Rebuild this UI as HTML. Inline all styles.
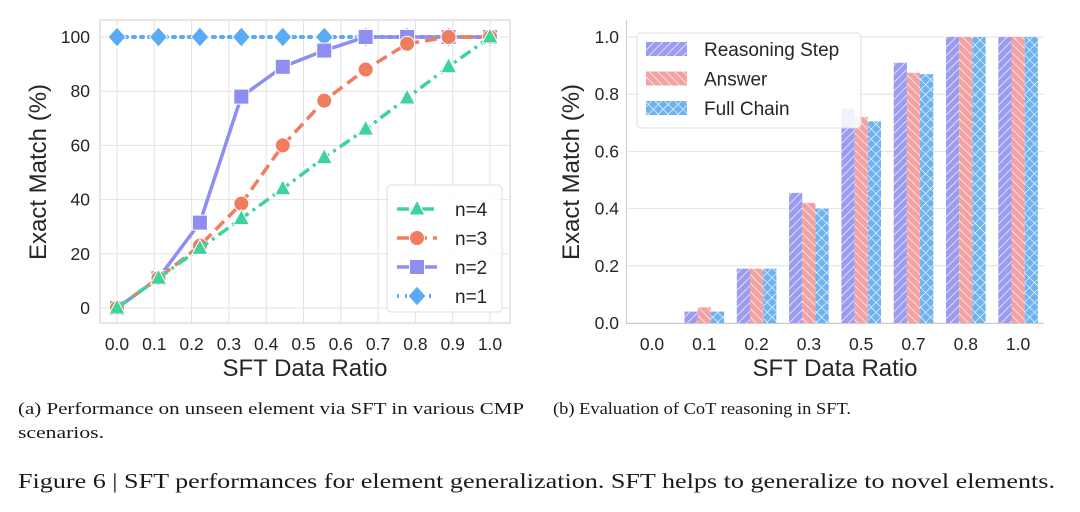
<!DOCTYPE html>
<html><head><meta charset="utf-8"><style>
body{margin:0;background:#fff;width:1080px;height:512px;overflow:hidden}
svg{display:block}
.t{font-family:"Liberation Sans",sans-serif;fill:#262626}
.s{font-family:"Liberation Serif",serif;fill:#1a1a1a}
</style></head><body>
<svg id="fig" width="1080" height="512">
<defs>
<pattern id="h1" width="6" height="6" patternUnits="userSpaceOnUse" patternTransform="rotate(45)"><rect width="6" height="6" fill="#9b9bef"/><line x1="0" y1="0" x2="0" y2="6" stroke="#fff" stroke-width="1.3"/></pattern>
<pattern id="h2" width="6" height="6" patternUnits="userSpaceOnUse" patternTransform="rotate(-45)"><rect width="6" height="6" fill="#f2a2a2"/><line x1="0" y1="0" x2="0" y2="6" stroke="#fff" stroke-width="1.3"/></pattern>
<pattern id="h3" width="7" height="7" patternUnits="userSpaceOnUse" patternTransform="rotate(45)"><rect width="7" height="7" fill="#6eb2f0"/><line x1="0" y1="0" x2="0" y2="7" stroke="#fff" stroke-width="1.2"/><line x1="0" y1="0" x2="7" y2="0" stroke="#fff" stroke-width="1.2"/></pattern>
</defs>
<g id="left"></g>
<g id="right"></g>
<text class="s" x="18" y="414" font-size="16.5" textLength="506" lengthAdjust="spacingAndGlyphs">(a) Performance on unseen element via SFT in various CMP</text>
<text class="s" x="18" y="438" font-size="16.5" textLength="86" lengthAdjust="spacingAndGlyphs">scenarios.</text>
<text class="s" x="553" y="414" font-size="16.5" textLength="298" lengthAdjust="spacingAndGlyphs">(b) Evaluation of CoT reasoning in SFT.</text>
<text class="s" x="18" y="488" font-size="21" textLength="1037" lengthAdjust="spacingAndGlyphs">Figure 6 | SFT performances for element generalization. SFT helps to generalize to novel elements.</text>
</svg>
<script>
// ---- left chart data ----
const lineX = [0, 1/9, 2/9, 3/9, 4/9, 5/9, 6/9, 7/9, 8/9, 1];
const n4 = [0, 11, 22, 33, 44, 55.5, 66, 77.5, 89, 100];
const n3 = [0, 11, 23, 38.5, 60, 76.5, 88, 97.5, 100, 100];
const n2 = [0, 11, 31.5, 78, 89, 95, 100, 100, 100, 100];
const n1 = [100, 100, 100, 100, 100, 100, 100, 100, 100, 100];
const leftXTicks = [0, 0.1, 0.2, 0.3, 0.4, 0.5, 0.6, 0.7, 0.8, 0.9, 1.0];
const leftYTicks = [0, 20, 40, 60, 80, 100];
// ---- right chart data ----
const barCats = ["0.0", "0.1", "0.2", "0.3", "0.5", "0.7", "0.8", "1.0"];
const reasoning = [0, 0.04, 0.19, 0.455, 0.75, 0.91, 1, 1];
const answer = [0, 0.055, 0.19, 0.42, 0.72, 0.875, 1, 1];
const fullChain = [0, 0.04, 0.19, 0.40, 0.705, 0.87, 1, 1];
const rightYTicks = [0, 0.2, 0.4, 0.6, 0.8, 1.0];

const NS = "http://www.w3.org/2000/svg";
function mk(parent, tag, attrs, text) {
  const e = document.createElementNS(NS, tag);
  for (const k in attrs) e.setAttribute(k, attrs[k]);
  if (text !== undefined) e.textContent = text;
  parent.appendChild(e);
  return e;
}
// LEFT
const L = document.getElementById('left');
const lx = v => 117 + v * 373;
const ly = v => 308 - v * 2.71;
mk(L, 'rect', {x: 100, y: 20, width: 410, height: 303, fill: '#fff', stroke: '#ccc'});
leftXTicks.forEach(t => {
  const g = mk(L, 'line', {x1: lx(t), x2: lx(t), y1: 20, y2: 323, stroke: '#e2e2e2'});
  
  
  const tx = mk(L, 'text', {x: lx(t), y: 350, 'text-anchor': 'middle', 'font-size': 17.5, class: 't'}, t.toFixed(1));
  
  
});
leftYTicks.forEach(t => {
  const g = mk(L, 'line', {x1: 100, x2: 510, y1: ly(t), y2: ly(t), stroke: '#e2e2e2'});
  
  
  const tx = mk(L, 'text', {x: 90, y: ly(t) + 6, 'text-anchor': 'end', 'font-size': 17.5, class: 't'}, String(t));
  
  
});
const xl = mk(L, 'text', {x: 305, y: 376, 'text-anchor': 'middle', 'font-size': 24, class: 't'}, 'SFT Data Ratio');


const yl = mk(L, 'text', {x: 0, y: 0, transform: 'translate(46,172) rotate(-90)', 'text-anchor': 'middle', 'font-size': 24, class: 't'}, 'Exact Match (%)');



function marker(g, type, x, y, color) {
  let e;
  if (type === 'tri') e = mk(g, 'polygon', {points: `${x},${y-9} ${x-8},${y+6} ${x+8},${y+6}`});
  else if (type === 'circ') e = mk(g, 'circle', {cx: x, cy: y, r: 7.5});
  else if (type === 'sq') e = mk(g, 'rect', {x: x-7.5, y: y-7.5, width: 15, height: 15});
  else e = mk(g, 'polygon', {points: `${x},${y-10} ${x+9},${y} ${x},${y+10} ${x-9},${y}`});
  e.setAttribute('fill', color); e.setAttribute('stroke', '#fff'); e.setAttribute('stroke-width', 1);
  return e;
}
const series = [
  {name: 'n=1', vals: n1, color: '#5aabf7', dash: '2,6', mk: 'dia', w: 4},
  {name: 'n=2', vals: n2, color: '#8d8df2', dash: '', mk: 'sq', w: 3.5},
  {name: 'n=3', vals: n3, color: '#f07d60', dash: '12,6', mk: 'circ', w: 3.5},
  {name: 'n=4', vals: n4, color: '#3ed39d', dash: '12,5,3,5', mk: 'tri', w: 3.5},
];
series.forEach(s => {
  const g = mk(L, 'g', {});
  
  
  const pts = lineX.map((v, i) => lx(v) + ',' + ly(s.vals[i])).join(' ');
  mk(g, 'polyline', {points: pts, fill: 'none', stroke: s.color, 'stroke-width': s.w, 'stroke-dasharray': s.dash, 'stroke-linecap': s.mk === 'dia' ? 'round' : 'butt'});
  lineX.forEach((v, i) => {
    const m = marker(g, s.mk, lx(v), ly(s.vals[i]), s.color);
    
    
  });
});
// legend
const lg = mk(L, 'g', {});


mk(lg, 'rect', {x: 387, y: 185, width: 115, height: 127, rx: 4, fill: '#fff', 'fill-opacity': 0.9, stroke: '#ddd'});
[...series].reverse().forEach((s, i) => {
  const y = 209 + i * 29;
  const e = mk(lg, 'g', {});
  
  
  mk(e, 'line', {x1: 397, x2: 437, y1: y, y2: y, stroke: s.color, 'stroke-width': s.w, 'stroke-dasharray': s.dash});
  marker(e, s.mk, 417, y, s.color);
  mk(e, 'text', {x: 455, y: y + 7, 'font-size': 19, class: 't'}, s.name);
});

// RIGHT
const R = document.getElementById('right');
const bx = i => 652 + i * 52.3;
const by = v => 323 - v * 286;
const bw = 13.2;
mk(R, 'rect', {x: 626, y: 20, width: 418, height: 303, fill: '#fff'});
rightYTicks.forEach(t => {
  const g = mk(R, 'line', {x1: 626, x2: 1044, y1: by(t), y2: by(t), stroke: '#e2e2e2'});
  
  
  const tx = mk(R, 'text', {x: 619, y: by(t) + 6, 'text-anchor': 'end', 'font-size': 17.5, class: 't'}, t.toFixed(1));
  
  
});
mk(R, 'line', {x1: 626, x2: 1044, y1: 323.5, y2: 323.5, stroke: '#ccc'});
mk(R, 'line', {x1: 626.5, x2: 626.5, y1: 20, y2: 323, stroke: '#ccc'});
const bseries = [['reasoning', reasoning, 'url(#h1)'], ['answer', answer, 'url(#h2)'], ['full-chain', fullChain, 'url(#h3)']];
barCats.forEach((c, i) => {
  bseries.forEach((s, j) => {
    const v = s[1][i];
    const r = mk(R, 'rect', {x: bx(i) + (j - 1.5) * bw, y: by(v), width: bw, height: by(0) - by(v), fill: s[2]});
    
    
  });
  const tx = mk(R, 'text', {x: bx(i), y: 350, 'text-anchor': 'middle', 'font-size': 17.5, class: 't'}, c);
  
  
});
const xr = mk(R, 'text', {x: 835, y: 376, 'text-anchor': 'middle', 'font-size': 24, class: 't'}, 'SFT Data Ratio');


const yr = mk(R, 'text', {x: 0, y: 0, transform: 'translate(579,172) rotate(-90)', 'text-anchor': 'middle', 'font-size': 24, class: 't'}, 'Exact Match (%)');


const rl = mk(R, 'g', {});


mk(rl, 'rect', {x: 637, y: 33, width: 224, height: 95, rx: 4, fill: '#fff', 'fill-opacity': 0.85, stroke: '#ddd'});
[['Reasoning Step', 'url(#h1)'], ['Answer', 'url(#h2)'], ['Full Chain', 'url(#h3)']].forEach((s, i) => {
  const y = 49 + i * 29.5;
  const e = mk(rl, 'g', {});
  
  
  mk(e, 'rect', {x: 646, y: y - 7, width: 41, height: 14, fill: s[1]});
  mk(e, 'text', {x: 704, y: y + 7, 'font-size': 19, class: 't'}, s[0]);
});
</script>
</body></html>
